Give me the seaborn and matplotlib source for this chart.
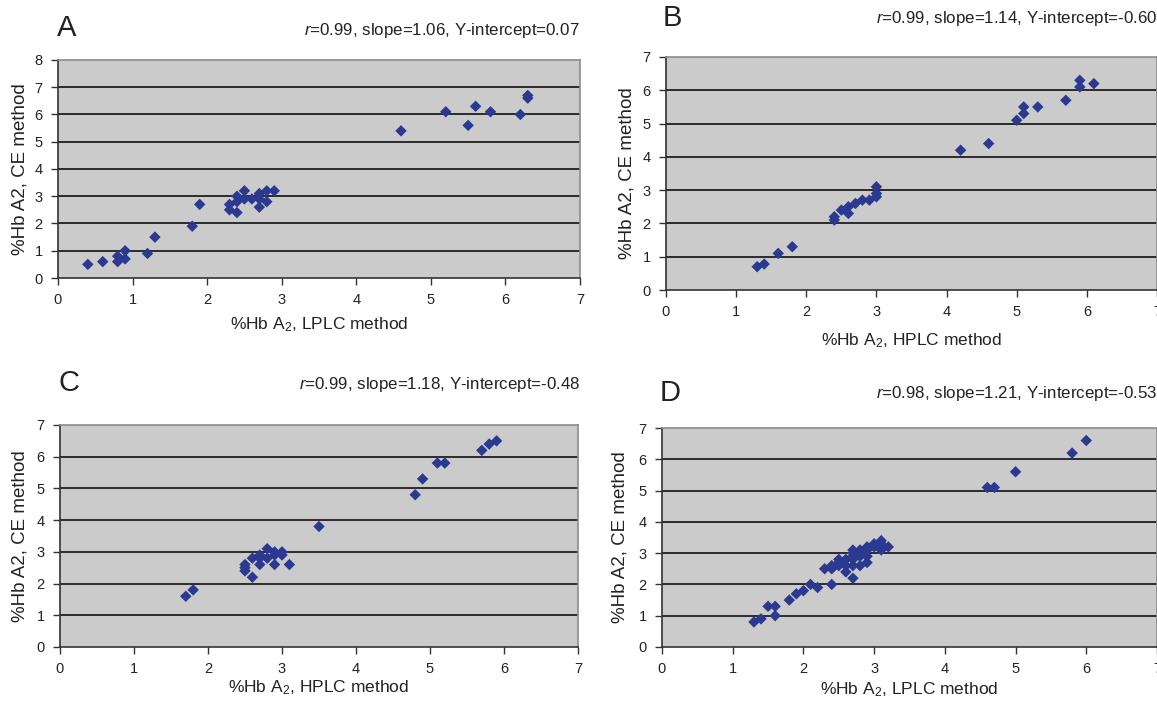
import numpy as np
import pandas as pd
import matplotlib
matplotlib.use("Agg")
import matplotlib.pyplot as plt
import seaborn as sns

# panel A: LPLC vs CE
a_x = [0.4, 0.6, 0.8, 0.8, 0.9, 0.9, 1.2, 1.3, 1.8, 1.9, 2.3, 2.3, 2.4, 2.4, 2.4, 2.5,
       2.5, 2.6, 2.7, 2.7, 2.7, 2.8, 2.8, 2.9, 4.6, 5.2, 5.5, 5.6, 5.8, 6.2, 6.3, 6.3]
a_y = [0.5, 0.6, 0.6, 0.8, 0.7, 1.0, 0.9, 1.5, 1.9, 2.7, 2.5, 2.7, 2.4, 2.8, 3.0, 2.9,
       3.2, 2.9, 2.6, 2.9, 3.1, 2.8, 3.2, 3.2, 5.4, 6.1, 5.6, 6.3, 6.1, 6.0, 6.6, 6.7]

# panel B: HPLC vs CE
b_x = [1.3, 1.4, 1.6, 1.8, 2.4, 2.4, 2.5, 2.6, 2.6, 2.7, 2.8, 2.9, 3.0, 3.0, 3.0,
       4.2, 4.6, 5.0, 5.1, 5.1, 5.3, 5.7, 5.9, 5.9, 6.1]
b_y = [0.7, 0.78, 1.1, 1.3, 2.1, 2.2, 2.4, 2.3, 2.5, 2.6, 2.7, 2.7, 2.8, 2.9, 3.1,
       4.2, 4.4, 5.1, 5.3, 5.5, 5.5, 5.7, 6.1, 6.3, 6.2]

# panel C: HPLC vs CE
c_x = [1.7, 1.8, 2.5, 2.5, 2.5, 2.6, 2.6, 2.7, 2.7, 2.7, 2.8, 2.8, 2.9, 2.9, 2.9,
       3.0, 3.0, 3.1, 3.5, 4.8, 4.9, 5.1, 5.2, 5.7, 5.8, 5.9]
c_y = [1.6, 1.8, 2.4, 2.5, 2.6, 2.2, 2.8, 2.6, 2.8, 2.9, 2.8, 3.1, 2.6, 2.9, 3.0,
       2.9, 3.0, 2.6, 3.8, 4.8, 5.3, 5.8, 5.8, 6.2, 6.4, 6.5]

# panel D: LPLC vs CE
d_x = [1.3, 1.4, 1.5, 1.6, 1.6, 1.8, 1.9, 2.0, 2.1, 2.2, 2.3, 2.4, 2.4, 2.4, 2.5,
       2.5, 2.5, 2.6, 2.6, 2.6, 2.7, 2.7, 2.7, 2.7, 2.7, 2.7, 2.8, 2.8, 2.8, 2.8,
       2.9, 2.9, 2.9, 2.9, 3.0, 3.0, 3.1, 3.1, 3.1, 3.2, 4.6, 4.7, 5.0, 5.8, 6.0]
d_y = [0.8, 0.9, 1.3, 1.3, 1.0, 1.5, 1.7, 1.8, 2.0, 1.9, 2.5, 2.5, 2.6, 2.0, 2.6,
       2.7, 2.8, 2.4, 2.6, 2.8, 2.2, 2.6, 2.8, 2.9, 3.0, 3.1, 2.6, 2.9, 3.0, 3.1,
       2.7, 2.9, 3.1, 3.2, 3.2, 3.3, 3.1, 3.3, 3.4, 3.2, 5.1, 5.1, 5.6, 6.2, 6.6]

letters = ["A", "B", "C", "D"]
stats = ["0.99, slope=1.06, Y-intercept=0.07",
         "0.99, slope=1.14, Y-intercept=-0.60",
         "0.99, slope=1.18, Y-intercept=-0.48",
         "0.98, slope=1.21, Y-intercept=-0.53"]
xlabels = ["LPLC", "HPLC", "HPLC", "LPLC"]
ymaxes = [8, 7, 7, 7]

sns.set_theme(style="white")
plt.rcParams['font.family'] = ['Liberation Sans', 'DejaVu Sans']
plt.rcParams['mathtext.fontset'] = 'custom'
plt.rcParams['mathtext.rm'] = 'Liberation Sans'
plt.rcParams['mathtext.it'] = 'Liberation Sans:italic'

W, H = 1157, 703
fig = plt.figure(figsize=(W / 100, H / 100), dpi=100)

# pixel boxes: left, top, right, bottom of the plot area
boxes = [(58, 60, 580, 278), (666, 57, 1157, 290),
         (60, 425, 578, 647), (662, 428, 1157, 647)]
letter_pos = [(57, 28), (663, 18), (59, 383), (660, 393)]
stat_y = [30, 18, 384, 393]
stat_right = [580, 1157, 580, 1157]
xlab_y = [325, 341, 688, 690]
ylab_x = [20, 627, 20, 620]

datasets = [(a_x, a_y), (b_x, b_y), (c_x, c_y), (d_x, d_y)]

for i, (xs, ys) in enumerate(datasets):
    l, t, r, b = boxes[i]
    ax = fig.add_axes([l / W, 1 - b / H, (r - l) / W, (b - t) / H])
    df = pd.DataFrame({"x": xs, "y": ys})
    ax.set_facecolor("#cbcbcb")
    ax.set_axisbelow(True)
    for v in range(1, ymaxes[i]):
        ax.axhline(v, color="black", lw=1.1, zorder=1)
    sns.scatterplot(data=df, x="x", y="y", marker="D", s=34, color="#2b3990",
                    edgecolor="none", ax=ax, zorder=3, clip_on=False)
    ax.set_xlim(0, 7)
    ax.set_ylim(0, ymaxes[i])
    ax.set_xticks(range(0, 8))
    ax.set_yticks(range(0, ymaxes[i] + 1))
    ax.tick_params(axis="both", direction="out", length=5, width=1, color="#333333",
                   labelsize=10.5, labelcolor="#222222", pad=6, bottom=True, left=True)
    for s in ["left", "bottom"]:
        ax.spines[s].set_color("#333333")
        ax.spines[s].set_linewidth(1.2)
    for s in ["top", "right"]:
        ax.spines[s].set_color("#8c8c8c")
        ax.spines[s].set_linewidth(1.2)
    ax.set_xlabel("")
    ax.set_ylabel("")

    lx, ly = letter_pos[i]
    fig.text(lx / W, 1 - ly / H, letters[i], fontsize=21, ha="left", va="center", color="#222222")
    fig.text(stat_right[i] / W, 1 - stat_y[i] / H, r"$\mathit{r}$=" + stats[i],
             fontsize=12.2, ha="right", va="center", color="#222222")
    fig.text((l + r) / 2 / W, 1 - xlab_y[i] / H,
             "%Hb A$_2$, " + xlabels[i] + " method",
             fontsize=12.5, ha="center", va="center", color="#222222")
    fig.text(ylab_x[i] / W, 1 - (t + b) / 2 / H, "%Hb A2, CE method",
             fontsize=13.5, ha="center", va="center", rotation=90, color="#222222")

fig.savefig("out.png", dpi=100)
